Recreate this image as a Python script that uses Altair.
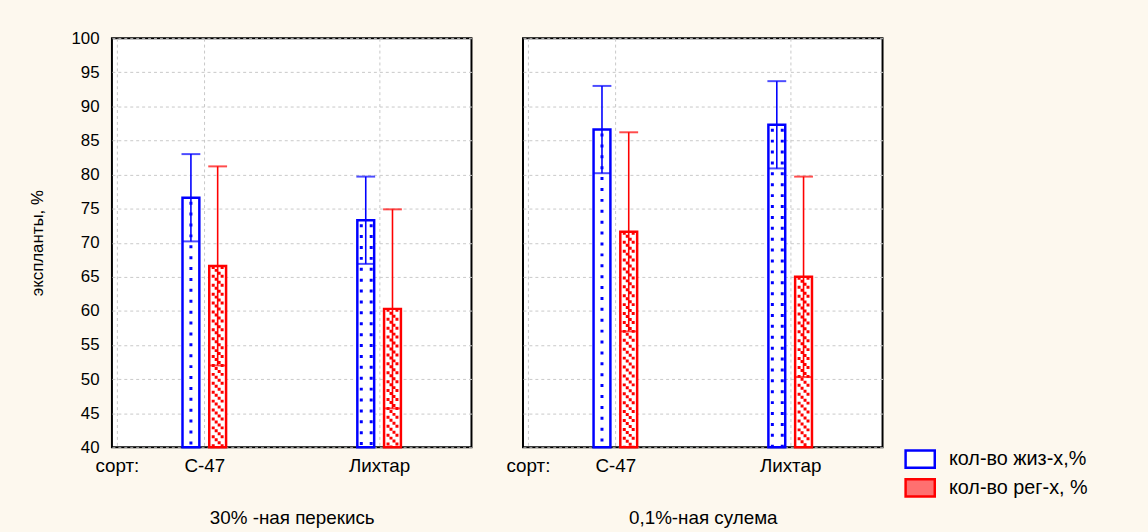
import altair as alt
import pandas as pd

# ---- data ----
sorts = ["С-47", "Лихтар"]
sort_pos = [1, 2]
panels = ["30% -ная перекись", "0,1%-ная сулема"]
series = ["кол-во жиз-х,%", "кол-во рег-х, %"]

alive_p1 = [76.6, 73.3]
alive_p1_err = [6.4, 6.4]
regen_p1 = [66.6, 60.3]
regen_p1_err = [14.6, 14.6]

alive_p2 = [86.6, 87.3]
alive_p2_err = [6.4, 6.4]
regen_p2 = [71.6, 65.0]
regen_p2_err = [14.6, 14.7]

y_ticks = list(range(40, 101, 5))

rows = []
for pname, a, ae, r, re_ in [
    (panels[0], alive_p1, alive_p1_err, regen_p1, regen_p1_err),
    (panels[1], alive_p2, alive_p2_err, regen_p2, regen_p2_err),
]:
    for i, s in enumerate(sorts):
        rows.append(dict(panel=pname, sort=s, idx=sort_pos[i], series=series[0],
                         mean=a[i], lo=a[i] - ae[i], hi=a[i] + ae[i]))
        rows.append(dict(panel=pname, sort=s, idx=sort_pos[i], series=series[1],
                         mean=r[i], lo=r[i] - re_[i], hi=r[i] + re_[i]))
df = pd.DataFrame(rows)

BLUE = "#0000ff"
RED = "#ff0000"
OFF = 13.5
FONT = "Liberation Sans"

label_expr = "datum.value == {0} ? '{1}' : datum.value == {2} ? '{3}' : 'сорт:'".format(
    sort_pos[0], sorts[0], sort_pos[1], sorts[1])


def xenc(title):
    return alt.X("idx:Q",
                 scale=alt.Scale(domain=[0.5, 2.5], nice=False, zero=False),
                 axis=alt.Axis(values=[0.5] + sort_pos, labelExpr=label_expr, title=title,
                               grid=True, gridDash=[3, 3], gridColor="#c8c8c8",
                               ticks=False, domain=False, labelFlush=False,
                               labelPadding=9, titlePadding=34,
                               labelFontSize=19, titleFontSize=19,
                               titleFontWeight="normal", labelColor="black",
                               titleColor="black", labelFont=FONT, titleFont=FONT))


def yenc(field, first):
    if first:
        ax = alt.Axis(values=y_ticks, title="экспланты, %", grid=True, gridDash=[3, 3],
                      gridColor="#c8c8c8", ticks=False, domain=False, labelPadding=13,
                      titlePadding=25, labelFontSize=17, titleFontSize=17,
                      titleFontWeight="normal", labelColor="black", titleColor="black",
                      labelFont=FONT, titleFont=FONT)
    else:
        ax = alt.Axis(values=y_ticks, title=None, labels=False, grid=True, gridDash=[3, 3],
                      gridColor="#c8c8c8", ticks=False, domain=False)
    return alt.Y(field + ":Q", scale=alt.Scale(domain=[40, 100], nice=False, zero=False), axis=ax)


def panel_chart(pname, first, with_legend):
    base = alt.Chart(df).transform_filter(alt.datum.panel == pname)
    X = xenc(pname)
    alive = base.transform_filter(alt.datum.series == series[0])
    regen = base.transform_filter(alt.datum.series == series[1])
    layers = []
    # bars
    layers.append(alive.mark_bar(width=17, fill="white", stroke=BLUE, strokeWidth=2.5,
                                 xOffset=-OFF).encode(x=X, y=yenc("mean", first), y2=alt.Y2Datum(40)))
    layers.append(regen.mark_bar(width=17, fill="white", stroke=RED, strokeWidth=2.5,
                                 xOffset=OFF).encode(x=X, y=yenc("mean", first), y2=alt.Y2Datum(40)))
    # dotted fill of the blue bars
    a1 = alive.transform_filter(alt.datum.idx == sort_pos[0])
    a2 = alive.transform_filter(alt.datum.idx == sort_pos[1])
    for src, offs in [(a1, [0]), (a2, [-4.5, 5.5])]:
        for o in offs:
            layers.append(src.mark_rule(stroke=BLUE, strokeWidth=3, strokeDash=[3, 8],
                                        strokeDashOffset=-4, xOffset=-OFF + o).encode(
                x=X, y=yenc("mean", first), y2=alt.Y2Datum(40)))
    # hatched fill of the red bars
    for k, o in enumerate([-4.5, -1.5, 1.5, 4.5]):
        layers.append(regen.mark_rule(stroke=RED, strokeWidth=3, strokeDash=[3, 6],
                                      strokeDashOffset=-3 * k, xOffset=OFF + o).encode(
            x=X, y=yenc("mean", first), y2=alt.Y2Datum(40)))
    # error bars
    for src, col, off in [(alive, BLUE, -OFF), (regen, RED, OFF)]:
        layers.append(src.mark_rule(stroke=col, strokeWidth=1.6, xOffset=off).encode(
            x=X, y=yenc("lo", first), y2="hi:Q"))
        layers.append(src.mark_tick(orient="horizontal", size=19, thickness=2, color=col,
                                    xOffset=off).encode(x=X, y=yenc("hi", first)))
        layers.append(src.mark_tick(orient="horizontal", size=16, thickness=2, color=col,
                                    xOffset=off).encode(x=X, y=yenc("lo", first)))
    if with_legend:
        leg = alt.Legend(title=None, orient="none", legendX=806, legendY=415,
                         symbolType="M-1.7,-1H1.7V1H-1.7Z", symbolSize=300,
                         symbolStrokeWidth=2.5, labelFontSize=20, labelFont=FONT,
                         labelColor="black", labelOffset=19, rowPadding=1, padding=0)
        layers.append(base.transform_filter("false").mark_point(filled=True, opacity=1).encode(
            fill=alt.Fill("series:N", scale=alt.Scale(domain=series, range=["white", "#ff7070"]),
                          legend=leg),
            stroke=alt.Stroke("series:N", scale=alt.Scale(domain=series, range=[BLUE, RED]),
                              legend=leg)))
    return alt.layer(*layers).properties(
        width=363, height=413,
        view=alt.ViewBackground(fill="white", stroke="black", strokeWidth=2))


p1 = panel_chart(panels[0], True, False)
p2 = panel_chart(panels[1], False, True)

chart = alt.hconcat(p1, p2, spacing=32).properties(
    background="#fdf8ee", padding={"left": 27, "top": 26, "right": 60, "bottom": 5}
).configure_view(fill="white", stroke="black", strokeWidth=2)

chart.save("out.html", embed_options={"renderer": "svg", "actions": False})
